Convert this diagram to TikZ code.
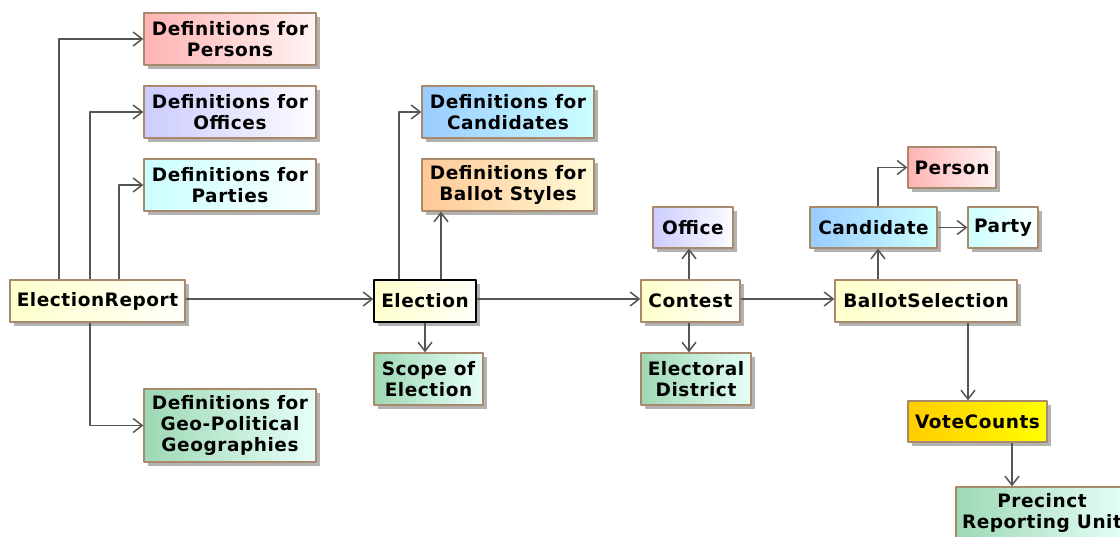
\documentclass[tikz,border=0pt]{standalone}
\usepackage{fontspec}
\setmainfont{DejaVu Sans}[LetterSpace=3]
\usetikzlibrary{arrows.meta,shadows}
\definecolor{boxline}{HTML}{A8896B}
\definecolor{linkgray}{HTML}{555555}
\definecolor{redL}{HTML}{FFB3B3}   \definecolor{redR}{HTML}{FFF4F4}
\definecolor{blueL}{HTML}{CCCCFF}  \definecolor{blueR}{HTML}{FCFCFF}
\definecolor{cyanL}{HTML}{CCFFFF}  \definecolor{cyanR}{HTML}{FAFFFF}
\definecolor{yelL}{HTML}{FFFFCC}   \definecolor{yelR}{HTML}{FFFFFA}
\definecolor{grnL}{HTML}{9ED8B4}   \definecolor{grnR}{HTML}{E6FFF8}
\definecolor{candL}{HTML}{99CCFF}  \definecolor{candR}{HTML}{CCFFFF}
\definecolor{orgL}{HTML}{FFC896}   \definecolor{orgR}{HTML}{FFFAD6}
\definecolor{voteL}{HTML}{FFCC00}  \definecolor{voteR}{HTML}{FFFF00}
\begin{document}
\begin{tikzpicture}[x=1pt,y=-1pt, line join=round,
		box/.style={draw=boxline, line width=1.3pt, inner sep=0pt, align=center,
			font=\fontsize{18.5}{21}\selectfont\bfseries,
			drop shadow={fill=black!30, opacity=1, shadow xshift=4pt, shadow yshift=-4pt}},
		sz/.style 2 args={minimum width=#1pt, minimum height=#2pt},
		fillc/.style 2 args={left color=#1, right color=#2},
		link/.style={draw=linkgray, line width=1.5pt, -{Straight Barb[length=9pt,width=14pt]}}]
	\useasboundingbox (0,0) rectangle (1120,537);
	% left column
	\node[box,sz={172}{52},fillc={redL}{redR}] (defpers) at (230,39) {Definitions for\\Persons};
	\node[box,sz={172}{52},fillc={blueL}{blueR}] (defoffi) at (230,112) {Definitions for\\Offices};
	\node[box,sz={172}{52},fillc={cyanL}{cyanR}] (defpart) at (230,185) {Definitions for\\Parties};
	\node[box,sz={175}{42},fillc={yelL}{yelR}] (erep) at (97.5,301) {ElectionReport};
	\node[box,sz={172}{73},fillc={grnL}{grnR}] (defgeo) at (230,425.5) {Definitions for\\Geo-Political\\Geographies};
	% election
	\node[box,sz={172}{52},fillc={candL}{candR}] (defcand) at (508,112) {Definitions for\\Candidates};
	\node[box,sz={172}{52},fillc={orgL}{orgR}] (defball) at (508,185) {Definitions for\\Ballot Styles};
	\node[box,draw=black,sz={102}{42},fillc={yelL}{yelR}] (elec) at (425,301) {Election};
	\node[box,sz={109}{52},fillc={grnL}{grnR}] (scope) at (428.5,379) {Scope of\\Election};
	% contest
	\node[box,sz={80}{41},fillc={blueL}{blueR}] (office) at (693,227.5) {Office};
	\node[box,sz={99}{42},fillc={yelL}{yelR}] (cont) at (690.5,301) {Contest};
	\node[box,sz={110}{52},fillc={grnL}{grnR}] (dist) at (696,379) {Electoral\\District};
	% ballot selection
	\node[box,sz={127}{41},fillc={candL}{candR}] (cand) at (873.5,227.5) {Candidate};
	\node[box,sz={88}{41},fillc={redL}{redR}] (person) at (952,167.5) {Person};
	\node[box,sz={70}{41},fillc={cyanL}{cyanR}] (party) at (1003,227.5) {Party};
	\node[box,sz={182}{42},fillc={yelL}{yelR}] (bsel) at (926,301) {BallotSelection};
	\node[box,sz={139}{41},fillc={voteL}{voteR}] (vote) at (977.5,421.5) {VoteCounts};
	\node[box,sz={172}{52},fillc={grnL}{grnR}] (prec) at (1042,513) {Precinct\\Reporting Unit};
	% links
	\draw[link] ([xshift=-38.5pt]erep.north) |- (defpers.west);
	\draw[link] ([xshift=-7.5pt]erep.north) |- (defoffi.west);
	\draw[link] ([xshift=21.5pt]erep.north) |- (defpart.west);
	\draw[link] ([xshift=-7.5pt]erep.south) |- (defgeo.west);
	\draw[link] ([yshift=2pt]erep.east) -- ([yshift=2pt]elec.west);
	\draw[link] ([xshift=-26pt]elec.north) |- (defcand.west);
	\draw[link] ([xshift=16pt]elec.north) -- ([xshift=16pt]elec.north |- defball.south);
	\draw[link] (elec.south) -- (elec.south |- scope.north);
	\draw[link] ([yshift=2pt]elec.east) -- ([yshift=2pt]cont.west);
	\draw[link] ([xshift=-1.5pt]cont.north) -- ([xshift=-1.5pt]cont.north |- office.south);
	\draw[link] ([xshift=-1.5pt]cont.south) -- ([xshift=-1.5pt]cont.south |- dist.north);
	\draw[link] ([yshift=2pt]cont.east) -- ([yshift=2pt]bsel.west);
	\draw[link] ([xshift=-48pt]bsel.north) -- ([xshift=-48pt]bsel.north |- cand.south);
	\draw[link] ([xshift=4.5pt]cand.north) |- (person.west);
	\draw[link] (cand) -- (party);
	\draw[link] ([xshift=42pt]bsel.south) -- ([xshift=42pt]bsel.south |- vote.north);
	\draw[link] ([xshift=34.5pt]vote.south) -- ([xshift=34.5pt]vote.south |- prec.north);
\end{tikzpicture}
\end{document}
